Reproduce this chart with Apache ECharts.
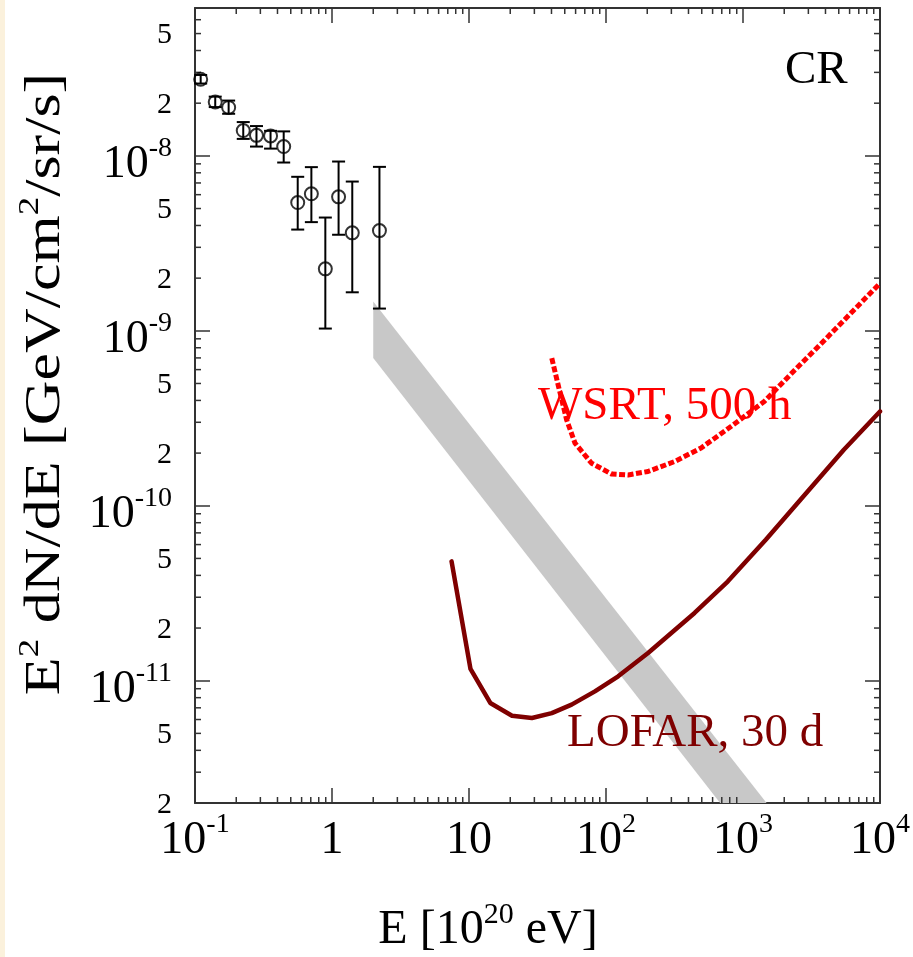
<!DOCTYPE html>
<html><head><meta charset="utf-8">
<script src="https://cdn.jsdelivr.net/npm/echarts@6/dist/echarts.min.js"></script>
<style>html,body{margin:0;padding:0;background:#fff}#c{width:913px;height:957px}</style>
</head><body><div id="c"></div><script>
// ---- data ----
const crE    = [0.110, 0.1405, 0.176, 0.225, 0.281, 0.356, 0.444, 0.562, 0.707, 0.894, 1.117, 1.406, 2.22];
const crFlux = [2.74e-8, 2.03e-8, 1.89e-8, 1.395e-8, 1.31e-8, 1.30e-8, 1.13e-8, 5.41e-9, 6.07e-9, 2.26e-9, 5.83e-9, 3.63e-9, 3.74e-9];
const crLow  = [2.59e-8, 1.90e-8, 1.74e-8, 1.25e-8, 1.13e-8, 1.10e-8, 9.16e-9, 3.79e-9, 4.18e-9, 1.03e-9, 3.54e-9, 1.66e-9, 1.34e-9];
const crHigh = [2.90e-8, 2.18e-8, 2.07e-8, 1.56e-8, 1.48e-8, 1.39e-8, 1.38e-8, 7.59e-9, 8.62e-9, 4.44e-9, 9.28e-9, 7.13e-9, 8.65e-9];

const lofarE    = [7.46, 10.25, 14.3, 20.6, 28.8, 40.2, 56.1, 83.0, 122.7, 202.8, 443, 773, 1466, 5445, 10000];
const lofarFlux = [4.81e-11, 1.17e-11, 7.46e-12, 6.31e-12, 6.12e-12, 6.53e-12, 7.30e-12, 8.69e-12, 1.06e-11, 1.44e-11, 2.44e-11, 3.69e-11, 6.40e-11, 2.09e-10, 3.46e-10];

const wsrtE    = [40.2, 45.0, 51.6, 59.4, 78.5, 109.7, 145, 202.6, 316.7, 494.6, 817, 1429, 2360, 3900, 10000];
const wsrtFlux = [6.98e-10, 4.81e-10, 3.10e-10, 2.28e-10, 1.75e-10, 1.52e-10, 1.50e-10, 1.57e-10, 1.79e-10, 2.14e-10, 2.84e-10, 3.94e-10, 5.91e-10, 8.77e-10, 1.87e-9];

// grey band (E^-1 strip): upper and lower edges
const bandUpperE = [2, 1487];
const bandUpperF = [1.47e-9, 2e-12];
const bandLowerE = [2, 681];
const bandLowerF = [7.0e-10, 2e-12];

// axes
const xMin = 0.1, xMax = 1e4, yMin = 2e-12, yMax = 7e-8;
const xTickExp = [-1, 0, 1, 2, 3, 4];
const xTickLabels = ['{b|10}{s|-1}', '{b|1}', '{b|10}', '{b|10}{s|2}', '{b|10}{s|3}', '{b|10}{s|4}'];
const yTickExp = [-11, -10, -9, -8];
const yTickLabels = ['{b|10}{s|-11}', '{b|10}{s|-10}', '{b|10}{s|-9}', '{b|10}{s|-8}'];
const yMinorLabelValues = [5e-8, 2e-8, 5e-9, 2e-9, 5e-10, 2e-10, 5e-11, 2e-11, 5e-12, 2e-12];
const yMinorLabelTexts  = ['5', '2', '5', '2', '5', '2', '5', '2', '5', '2'];
const minorMultipliers = [2, 3, 4, 5, 6, 7, 8, 9];
const xDecades = [0.1, 1, 10, 100, 1000];
const yDecades = [1e-12, 1e-11, 1e-10, 1e-9, 1e-8];

const FONT = '"Liberation Serif", "DejaVu Serif", serif';
const AX = '#333';

const chart = echarts.init(document.getElementById('c'), null, {renderer: 'canvas'});

const rich = {
  b: {fontSize: 46, fontFamily: FONT, color: '#000', lineHeight: 60},
  s: {fontSize: 28, fontFamily: FONT, color: '#000', verticalAlign: 'top', lineHeight: 27}
};
function fmt(exps, labels) {
  return function (v) {
    const e = Math.round(Math.log10(v));
    const i = exps.indexOf(e);
    return i >= 0 ? labels[i] : '';
  };
}

const baseX = {type: 'log', logBase: 10, min: xMin, max: xMax, splitNumber: 5,
  axisLine: {show: true, onZero: false, lineStyle: {color: AX, width: 2}},
  axisTick: {show: true, inside: true, length: 15, lineStyle: {color: AX, width: 1.5}},
  splitLine: {show: false}, minorTick: {show: false}};
const baseY = {type: 'log', logBase: 10, min: yMin, max: yMax, splitNumber: 5,
  axisLine: {show: true, onZero: false, lineStyle: {color: AX, width: 2}},
  axisTick: {show: true, inside: true, length: 15, lineStyle: {color: AX, width: 1.5}},
  splitLine: {show: false}, minorTick: {show: false}};

const option = {
  animation: false,
  backgroundColor: '#fff',
  grid: {left: 195, right: 30, top: 8, bottom: 154, containLabel: false},
  xAxis: [
    Object.assign({}, baseX, {position: 'bottom',
      axisLabel: {show: true, margin: 8, formatter: fmt(xTickExp, xTickLabels), rich: rich,
        showMinLabel: true, showMaxLabel: true}}),
    Object.assign({}, baseX, {position: 'top', axisLabel: {show: false}})
  ],
  yAxis: [
    Object.assign({}, baseY, {position: 'left',
      axisLabel: {show: true, margin: 23, padding: [18, 0, 0, 0], formatter: fmt(yTickExp, yTickLabels), rich: rich,
        showMinLabel: false, showMaxLabel: false}}),
    Object.assign({}, baseY, {position: 'right', axisLabel: {show: false}})
  ],
  graphic: [
    {type: 'rect', left: 0, top: 0, z: 100, shape: {width: 5, height: 957}, style: {fill: '#fbf1dc'}, silent: true},
    {type: 'text', z: 100, x: 785, y: 71, style: {text: 'CR', font: '47px ' + FONT, fill: '#000', align: 'left', verticalAlign: 'middle'}},
    {type: 'text', z: 100, x: 538, y: 407, style: {text: 'WSRT, 500 h', font: '47px ' + FONT, fill: '#ff0000', align: 'left', verticalAlign: 'middle'}},
    {type: 'text', z: 100, x: 567, y: 734, style: {text: 'LOFAR, 30 d', font: '47px ' + FONT, fill: '#7f0000', align: 'left', verticalAlign: 'middle'}},
    {type: 'text', z: 100, x: 488, y: 930, style: {
      text: '{b|E [10}{s|20}{b| eV]}', align: 'center', verticalAlign: 'middle',
      rich: {b: {fontSize: 48, fontFamily: FONT, fill: '#000', lineHeight: 60},
             s: {fontSize: 30, fontFamily: FONT, fill: '#000', verticalAlign: 'top', lineHeight: 30}}}},
    {type: 'text', z: 100, x: 46, y: 384, rotation: Math.PI / 2, scaleX: 1, scaleY: 0.81, style: {
      text: '{b|E}{s|2}{b| dN/dE [GeV/cm}{s|2}{b|/sr/s]}', align: 'center', verticalAlign: 'middle',
      rich: {b: {fontSize: 62, fontFamily: FONT, fill: '#000', lineHeight: 76},
             s: {fontSize: 37, fontFamily: FONT, fill: '#000', verticalAlign: 'top', lineHeight: 37}}}}
  ],
  series: [
    { // grey band
      type: 'custom', silent: true, z: 1,
      data: [[bandUpperE[0], bandUpperF[0]]],
      renderItem: function (params, api) {
        const pts = [];
        for (let i = 0; i < bandUpperE.length; i++) pts.push(api.coord([bandUpperE[i], bandUpperF[i]]));
        for (let i = bandLowerE.length - 1; i >= 0; i--) pts.push(api.coord([bandLowerE[i], bandLowerF[i]]));
        return {type: 'polygon', shape: {points: pts}, style: {fill: '#c8c8c8', stroke: null}};
      }
    },
    { // minor ticks and minor y labels
      type: 'custom', silent: true, z: 5,
      data: [[1, 1e-10]],
      renderItem: function (params, api) {
        const cs = params.coordSys;
        const ch = [];
        const ls = {stroke: AX, lineWidth: 1.5};
        xDecades.forEach(function (d) {
          minorMultipliers.forEach(function (m) {
            const v = d * m;
            if (v <= xMin || v >= xMax) return;
            const x = api.coord([v, 1e-10])[0];
            ch.push({type: 'line', shape: {x1: x, y1: cs.y + cs.height, x2: x, y2: cs.y + cs.height - 6}, style: ls});
            ch.push({type: 'line', shape: {x1: x, y1: cs.y, x2: x, y2: cs.y + 6}, style: ls});
          });
        });
        yDecades.forEach(function (d) {
          minorMultipliers.forEach(function (m) {
            const v = d * m;
            if (v <= yMin * 1.0001 || v >= yMax) return;
            const y = api.coord([1, v])[1];
            ch.push({type: 'line', shape: {x1: cs.x, y1: y, x2: cs.x + 6, y2: y}, style: ls});
            ch.push({type: 'line', shape: {x1: cs.x + cs.width, y1: y, x2: cs.x + cs.width - 6, y2: y}, style: ls});
          });
        });
        yMinorLabelValues.forEach(function (v, i) {
          const y = api.coord([1, v])[1];
          ch.push({type: 'text', style: {text: yMinorLabelTexts[i], x: cs.x - 23, y: y + 2,
            font: '30px ' + FONT, fill: '#000', align: 'right', verticalAlign: 'middle'}});
        });
        return {type: 'group', children: ch};
      }
    },
    {
      type: 'line', name: 'LOFAR', z: 3, showSymbol: false, symbol: 'none', smooth: false,
      data: lofarE.map(function (e, i) { return [e, lofarFlux[i]]; }),
      lineStyle: {color: '#7f0000', width: 4.5, cap: 'round', join: 'round'}
    },
    {
      type: 'line', name: 'WSRT', z: 3, showSymbol: false, symbol: 'none', smooth: false,
      data: wsrtE.map(function (e, i) { return [e, wsrtFlux[i]]; }),
      lineStyle: {color: '#ff0000', width: 5, type: [6, 2.5], cap: 'butt', join: 'round'}
    },
    { // error bars
      type: 'custom', z: 4, silent: true,
      encode: {x: 0, y: [1, 2]},
      data: crE.map(function (e, i) { return [e, crLow[i], crHigh[i]]; }),
      renderItem: function (params, api) {
        const x = api.value(0);
        const pLo = api.coord([x, api.value(1)]);
        const pHi = api.coord([x, api.value(2)]);
        const hw = 6.5;
        const st = {stroke: '#000', lineWidth: 2};
        return {type: 'group', children: [
          {type: 'line', shape: {x1: pLo[0], y1: pLo[1], x2: pHi[0], y2: pHi[1]}, style: st},
          {type: 'line', shape: {x1: pLo[0] - hw, y1: pLo[1], x2: pLo[0] + hw, y2: pLo[1]}, style: st},
          {type: 'line', shape: {x1: pHi[0] - hw, y1: pHi[1], x2: pHi[0] + hw, y2: pHi[1]}, style: st}
        ]};
      }
    },
    {
      type: 'scatter', name: 'CR', z: 5, symbol: 'circle', symbolSize: 13,
      data: crE.map(function (e, i) { return [e, crFlux[i]]; }),
      itemStyle: {color: 'rgba(0,0,0,0)', borderColor: '#000', borderWidth: 2}
    }
  ]
};
chart.setOption(option);
</script></body></html>
